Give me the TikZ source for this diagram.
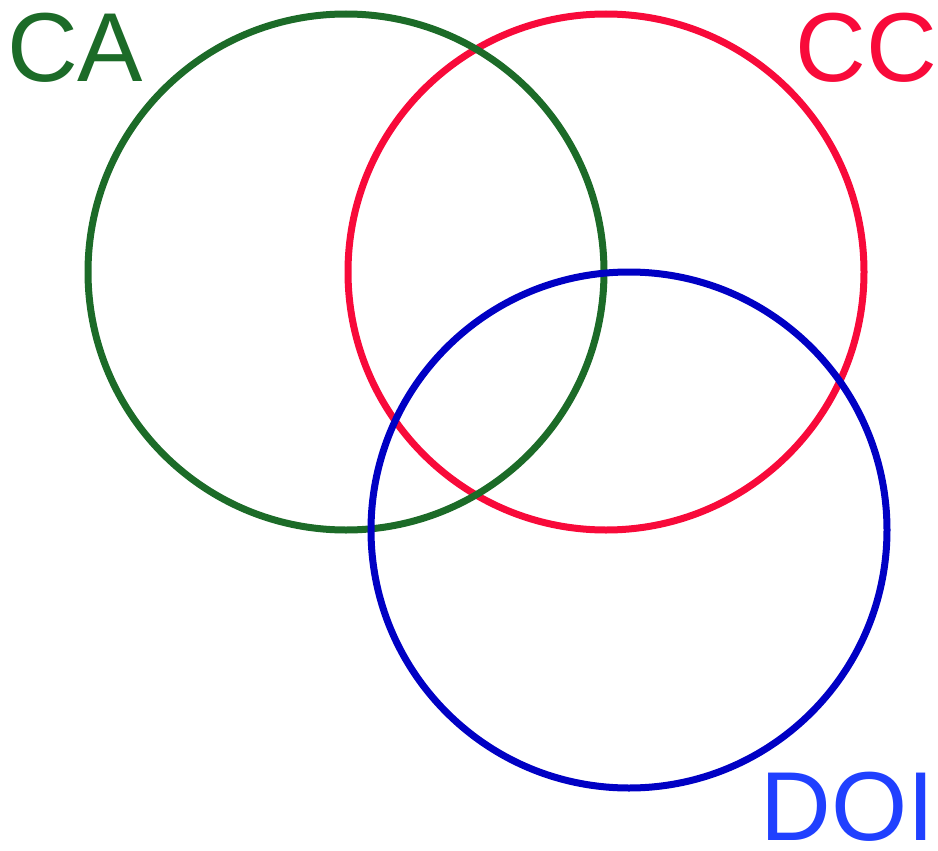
\documentclass[tikz,border=0pt]{standalone}
\usepackage{fontspec}
\setmainfont{Liberation Sans}
\usepackage{xcolor}
\usepackage{tikz}
\usetikzlibrary{positioning}

\definecolor{cagreen}{HTML}{1C6B28}
\definecolor{ccred}{HTML}{F80A3A}
\definecolor{doiblue}{HTML}{0000C4}
\definecolor{doitext}{HTML}{2040FF}

\begin{document}
\begin{tikzpicture}[
    x=1pt, y=-1pt,
    setcircle/.style={circle, draw, line width=7pt, minimum size=516pt, inner sep=0pt},
    setlabel/.style={inner sep=0pt, font=\fontsize{98}{98}\selectfont}
  ]

    \useasboundingbox (0,0) rectangle (938,851);

    % Sets
    \node[setcircle, draw=ccred] (cc) at (606, 272) {};
    \node[setcircle, draw=cagreen] (ca) at (346, 272) {};
    \node[setcircle, draw=doiblue] (doi) at (629, 530) {};

    % Labels
    \node[setlabel, text=cagreen, anchor=base west] (calabel) at (7, 82) {CA};
    \node[setlabel, text=ccred, anchor=base east] (cclabel) at (937, 82) {CC};
    \node[setlabel, text=doitext, anchor=base east] (doilabel) at (935, 840) {DOI};

  \end{tikzpicture}
\end{document}
